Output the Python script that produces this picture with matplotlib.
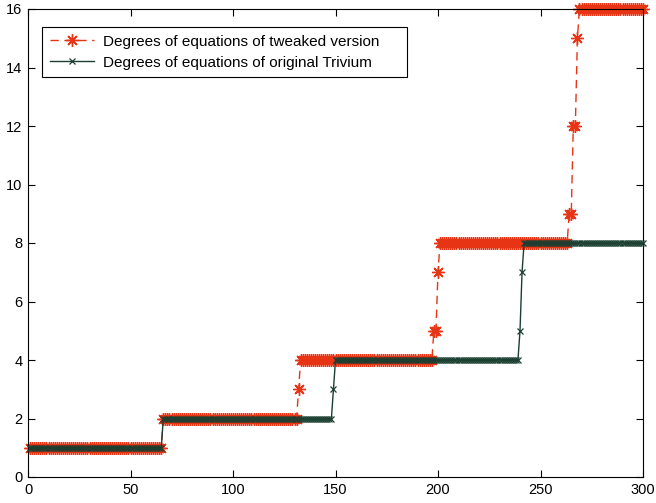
import numpy as np
import matplotlib
matplotlib.use('Agg')
from matplotlib import pyplot as plt

plt.rcParams['font.family'] = ['Liberation Sans', 'DejaVu Sans']

# step levels and how many consecutive rounds stay at each level (x = 1..300)
tweaked_levels = [1, 2, 3, 4, 5, 7, 8, 9, 12, 15, 16]
tweaked_runs = [65, 66, 1, 65, 2, 1, 63, 2, 2, 1, 32]
original_levels = [1, 2, 3, 4, 5, 7, 8]
original_runs = [65, 83, 1, 90, 1, 1, 59]

label_tweaked = 'Degrees of equations of tweaked version'
label_original = 'Degrees of equations of original Trivium'

red = '#e63414'
green = '#1b3f31'

x = np.arange(1, sum(tweaked_runs) + 1)
y_tweaked = np.repeat(tweaked_levels, tweaked_runs)
y_original = np.repeat(original_levels, original_runs)

fig = plt.figure(figsize=(6.56, 5.03), dpi=100)
ax = fig.add_axes([28 / 656, 1 - 477 / 503, 615 / 656, 468 / 503])

# matlab-style '*' : 8-spoke asterisk
ax.plot(x, y_tweaked, color=red, linestyle='--', dashes=(6, 4), linewidth=1.0,
        marker=(8, 2, 0), markersize=9, markeredgewidth=1.0, label=label_tweaked,
        clip_on=False, zorder=2)
ax.plot(x, y_original, color=green, linestyle='-', linewidth=1.0,
        marker='x', markersize=4.5, markeredgewidth=0.9, label=label_original,
        clip_on=False, zorder=3)

ax.set_xlim(0, 300)
ax.set_ylim(0, 16)
ax.set_xticks(np.arange(0, 301, 50))
ax.set_yticks(np.arange(0, 17, 2))
ax.tick_params(direction='in', top=True, right=True, length=5, width=0.8,
               labelsize=10.5, colors='black', pad=4)
for s in ax.spines.values():
    s.set_linewidth(0.8)

# legend box stretched to the matlab width (px 42..407, top at px 27)
lw, lh = 365 / 615, 54 / 468
ltop = 450 / 468
leg = ax.legend(loc='upper left', bbox_to_anchor=(14 / 615, ltop - lh, lw, lh),
                mode='expand', fontsize=11, frameon=True, fancybox=False,
                edgecolor='black', framealpha=1, borderaxespad=0,
                handlelength=2.9, borderpad=0.5, labelspacing=0.45,
                handletextpad=0.6)
leg.get_frame().set_linewidth(0.8)

fig.savefig('out.png', dpi=100)
